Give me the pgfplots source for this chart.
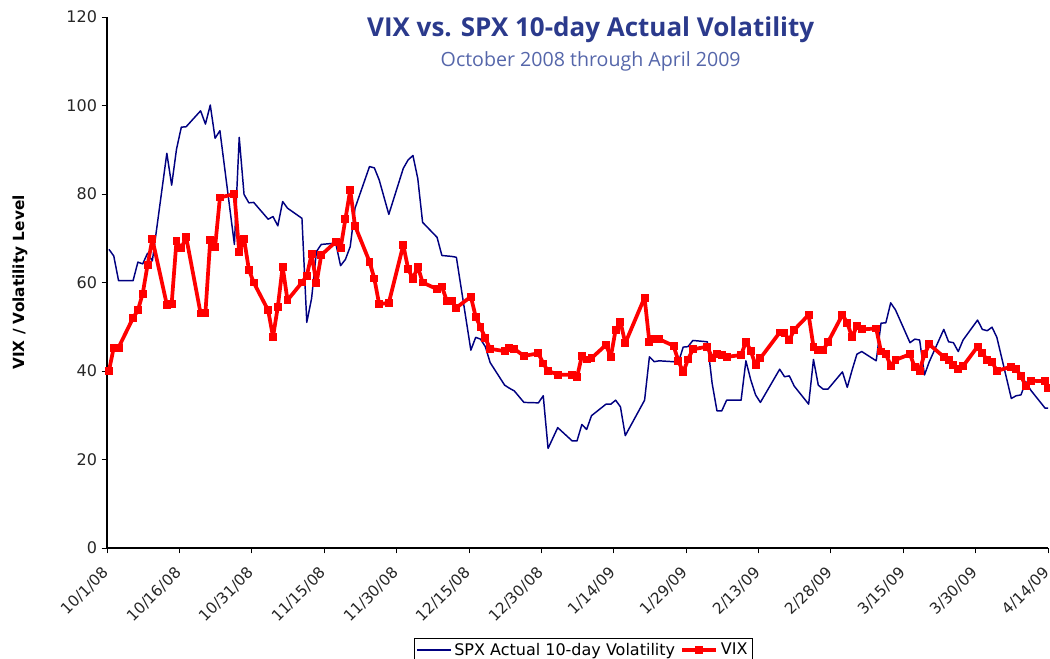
\documentclass[border=0pt]{standalone}
\usepackage{fontspec}
\setmainfont{DejaVu Sans}
\newfontfamily\titlefont{Open Sans}
\usepackage{pgfplots}
\pgfplotsset{compat=1.18}
\usepackage{pgfplotstable}
\definecolor{spxblue}{HTML}{000080}
\definecolor{vixred}{HTML}{FF0000}
\definecolor{titleblue}{HTML}{2B3A8C}
\definecolor{subblue}{HTML}{5566AA}

\pgfplotstableread{
x vix spx
0.4 40.0 67.5
1.4 45.3 66.0
2.4 45.3 60.4
5.4 52.0 60.4
6.4 53.7 64.6
7.4 57.5 64.2
8.4 63.9 66.6
9.4 69.8 64.9
12.4 55.0 89.2
13.4 55.2 82.0
14.4 69.4 90.1
15.4 67.7 95.1
16.4 70.3 95.2
19.4 53.0 98.8
20.4 53.2 95.8
21.4 69.7 100.1
22.4 68.0 92.6
23.4 79.2 94.3
26.4 80.0 68.6
27.4 66.9 92.8
28.4 69.9 79.9
29.4 62.9 78.0
30.4 60.0 78.1
33.4 53.7 74.3
34.4 47.7 74.9
35.4 54.5 72.8
36.4 63.6 78.3
37.4 56.0 76.8
40.4 60.0 74.5
41.4 61.5 51.0
42.4 66.4 56.4
43.4 59.8 67.0
44.4 66.2 68.6
47.4 69.2 68.9
48.4 67.7 63.8
49.4 74.3 65.2
50.4 80.9 68.1
51.4 72.8 76.8
54.4 64.7 86.2
55.4 60.9 85.9
56.4 55.1 83.2
58.4 55.4 75.4
61.4 68.5 85.8
62.4 63.1 87.7
63.4 60.8 88.7
64.4 63.6 83.5
65.4 60.0 73.6
68.4 58.5 70.2
69.4 59.1 66.1
70.4 55.9 66.0
71.4 55.9 65.9
72.4 54.3 65.7
75.4 56.8 44.7
76.4 52.3 47.6
77.4 49.9 47.2
78.4 47.4 45.5
79.4 45.0 41.9
82.4 44.5 36.8
83.4 45.1 36.1
84.4 45.0 35.5
86.4 43.4 32.9
89.4 44.0 32.8
90.4 41.7 34.4
91.4 40.0 22.5
93.4 39.2 27.2
96.4 39.1 24.2
97.4 38.6 24.2
98.4 43.4 27.9
99.4 42.6 26.8
100.4 42.9 29.9
103.4 45.9 32.5
104.4 43.2 32.5
105.4 49.3 33.4
106.4 51.1 31.9
107.4 46.3 25.4
111.4 56.6 33.4
112.4 46.5 43.2
113.4 47.2 42.1
114.4 47.2 42.3
117.4 45.7 42.1
118.4 42.3 41.9
119.4 39.7 45.4
120.4 42.6 45.5
121.4 44.9 46.9
124.4 45.5 46.6
125.4 43.0 37.2
126.4 43.8 31.0
127.4 43.6 31.0
128.4 43.2 33.4
131.4 43.6 33.4
132.4 46.6 42.3
133.4 44.6 38.0
134.4 41.3 34.6
135.4 42.9 32.9
139.4 48.7 40.4
140.4 48.5 38.7
141.4 47.0 38.9
142.4 49.3 36.6
145.4 52.7 32.5
146.4 45.5 42.6
147.4 44.7 36.8
148.4 44.7 35.9
149.4 46.5 35.9
152.4 52.7 39.8
153.4 50.9 36.3
154.4 47.6 40.2
155.4 50.2 43.8
156.4 49.4 44.4
159.4 49.6 42.3
160.4 44.4 50.8
161.4 43.8 50.9
162.4 41.2 55.4
163.4 42.5 53.8
166.4 43.8 46.4
167.4 40.8 47.2
168.4 40.1 47.0
169.4 43.8 39.1
170.4 46.0 42.1
173.4 43.2 49.4
174.4 42.5 46.6
175.4 41.4 46.4
176.4 40.5 44.4
177.4 41.1 47.0
180.4 45.5 51.5
181.4 44.0 49.4
182.4 42.5 49.1
183.4 42.1 49.9
184.4 40.0 47.6
187.4 41.0 33.8
188.4 40.4 34.4
189.4 38.9 34.6
190.4 36.6 37.6
191.4 37.8 35.7
194.4 37.7 31.6
195.0 36.2 31.6
}\datatable

\begin{document}
\begin{tikzpicture}
\path[use as bounding box] (-80.25pt,-83.25pt) rectangle (707.25pt,411pt);
\begin{axis}[
  at={(0,0)}, anchor=south west,
  scale only axis,
  width=705.75pt, height=398.25pt,
  xmin=0, xmax=195, ymin=0, ymax=120,
  axis x line*=bottom, axis y line*=left,
  axis line style={black, line width=0.8pt},
  xtick={0,15,...,195},
  xticklabels={10/1/08,10/16/08,10/31/08,11/15/08,11/30/08,12/15/08,12/30/08,1/14/09,1/29/09,2/13/09,2/28/09,3/15/09,3/30/09,4/14/09},
  ytick={0,20,...,120},
  tick align=outside,
  major tick length=4pt,
  tick style={black, line width=0.6pt},
  /pgf/number format/assume math mode=true,
  yticklabel style={font=\fontsize{12}{14}\selectfont, text=black!85},
  xticklabel style={font=\fontsize{11.5}{13}\selectfont, text=black!85, xshift=-4pt, yshift=-9pt, rotate=45, anchor=north east, inner sep=0pt},
  ylabel={\textbf{VIX / Volatility Level}},
  ylabel style={font=\fontsize{11.5}{13}\selectfont, at={(axis description cs:-0.0925,0.5)}, anchor=center},
  clip=false,
  legend style={at={(axis description cs:0.506,-0.1695)}, anchor=north, legend columns=2, draw=black, line width=0.5pt, font=\fontsize{12}{14}\selectfont, inner sep=1.5pt, column sep=0pt,
    /tikz/every even column/.append style={column sep=2pt}},
  legend cell align=left,
  legend image code/.code={\draw[mark repeat=2,mark phase=2] plot coordinates {(0cm,0cm) (0.45cm,0cm) (0.9cm,0cm)};},
]
\addplot[spxblue, line width=1.1pt, no marks, line join=round] table[x=x, y=spx] {\datatable};
\addlegendentry{SPX Actual 10-day Volatility}
\addplot[vixred, line width=2.8pt, line join=round, mark=square*, mark size=2.6pt, mark options={line width=0pt}] table[x=x, y=vix] {\datatable};
\addlegendentry{VIX}
\node[font=\titlefont\bfseries\fontsize{19.5}{22}\selectfont, text=titleblue] at (axis description cs:0.514,0.976) {VIX vs. SPX 10-day Actual Volatility};
\node[font=\titlefont\fontsize{14.7}{17}\selectfont, text=subblue] at (axis description cs:0.514,0.917) {October 2008 through April 2009};
\end{axis}
\end{tikzpicture}
\end{document}
